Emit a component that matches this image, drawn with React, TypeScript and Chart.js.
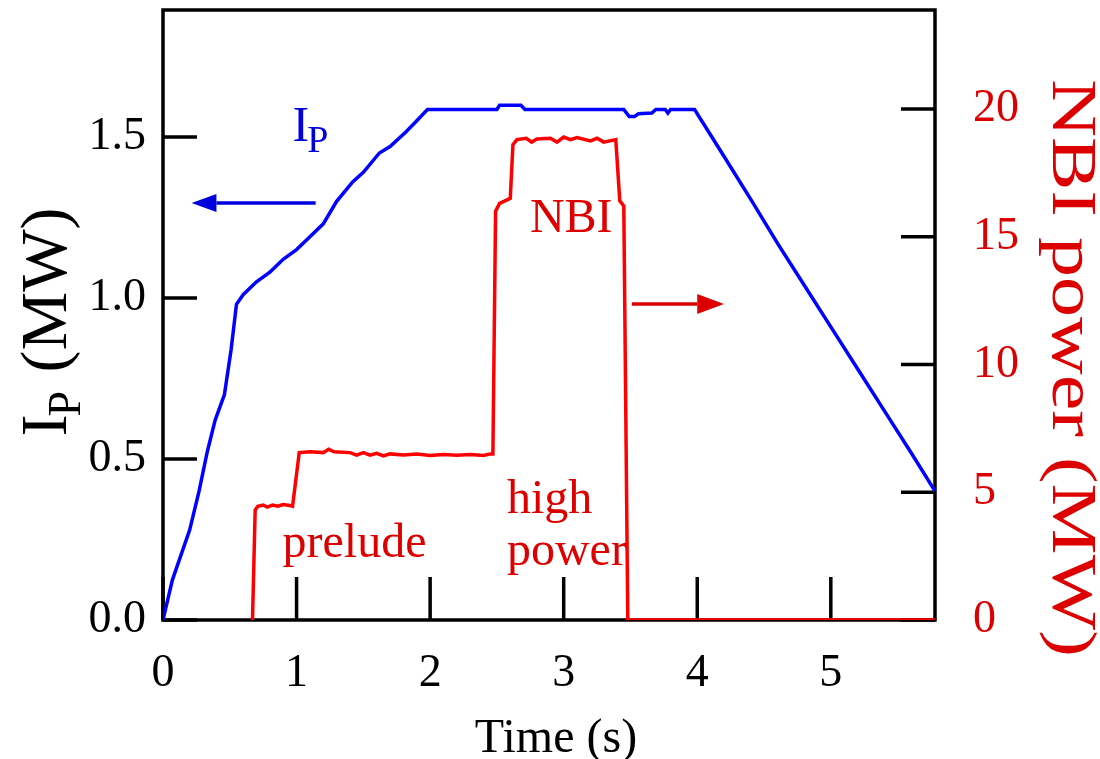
import React, { useEffect, useRef } from 'react';
import { Chart, registerables } from 'chart.js';

Chart.register(...registerables);

// ---- data ----
const IP_TIME = [0, 0.07, 0.2, 0.27, 0.33, 0.39, 0.46, 0.51, 0.55, 0.6, 0.7, 0.8, 0.9, 1.0, 1.1, 1.2, 1.3, 1.42, 1.5, 1.62, 1.7, 1.82, 1.9, 1.98, 2.5, 2.52, 2.68, 2.71, 3.45, 3.49, 3.53, 3.56, 3.66, 3.69, 3.76, 3.78, 3.8, 3.98, 4.2, 4.41, 4.6, 4.8, 5.0, 5.2, 5.4, 5.6, 5.78];
const IP_VALUES = [0, 0.124, 0.28, 0.4, 0.52, 0.62, 0.7, 0.84, 0.98, 1.01, 1.05, 1.08, 1.12, 1.15, 1.19, 1.23, 1.3, 1.36, 1.39, 1.45, 1.47, 1.516, 1.55, 1.585, 1.585, 1.598, 1.598, 1.585, 1.585, 1.563, 1.563, 1.572, 1.574, 1.585, 1.585, 1.574, 1.585, 1.585, 1.44, 1.3, 1.17, 1.04, 0.91, 0.78, 0.65, 0.52, 0.4];

const NBI_TIME = [0.67, 0.69, 0.71, 0.75, 0.78, 0.82, 0.86, 0.9, 0.95, 0.97, 1.02, 1.1, 1.2, 1.24, 1.28, 1.4, 1.45, 1.5, 1.55, 1.6, 1.65, 1.7, 1.8, 1.9, 2.0, 2.1, 2.2, 2.3, 2.4, 2.45, 2.47, 2.49, 2.52, 2.56, 2.6, 2.62, 2.65, 2.72, 2.76, 2.8, 2.9, 2.95, 3.0, 3.05, 3.1, 3.2, 3.25, 3.3, 3.39, 3.42, 3.45, 3.48, 5.78];
const NBI_POWER = [0, 4.3, 4.45, 4.5, 4.42, 4.5, 4.45, 4.52, 4.48, 4.45, 6.55, 6.58, 6.55, 6.68, 6.58, 6.55, 6.45, 6.55, 6.45, 6.52, 6.42, 6.5, 6.46, 6.5, 6.44, 6.48, 6.45, 6.48, 6.44, 6.5, 6.5, 16.0, 16.3, 16.4, 16.5, 18.6, 18.8, 18.85, 18.7, 18.82, 18.85, 18.7, 18.9, 18.8, 18.88, 18.75, 18.85, 18.7, 18.8, 16.4, 16.2, 0, 0];

const X_TICKS = [0, 1, 2, 3, 4, 5];
const LEFT_TICKS = [0, 0.5, 1.0, 1.5];
const RIGHT_TICKS = [0, 5, 10, 15, 20];

const X_MAX = 5.78;
const LEFT_MAX = 1.894;
const RIGHT_MAX = 23.87;

const FONT = "'Liberation Serif', 'Times New Roman', serif";
const TEXT_RED = '#dd0000';
const TEXT_BLUE = '#0000dd';

// annotations in data coordinates
const TEXT_LABELS = [
  { text: 'prelude', x: 0.895, y: 2.466, axis: 'y1', size: 48, color: TEXT_RED },
  { text: 'NBI', x: 2.747, y: 15.19, axis: 'y1', size: 48, color: TEXT_RED },
  { text: 'high', x: 2.575, y: 4.19, axis: 'y1', size: 48, color: TEXT_RED },
  { text: 'power', x: 2.575, y: 2.15, axis: 'y1', size: 48, color: TEXT_RED },
];
const ARROWS = [
  { from: 1.143, base: 0.40, tip: 0.214, y: 1.295, axis: 'y', color: '#0000dd', half: 9 },
  { from: 3.51, base: 4.0, tip: 4.2, y: 12.37, axis: 'y1', color: '#dd0000', half: 10 },
];

const zeroPad = (s: any) => {
  s.paddingTop = 0;
  s.paddingBottom = 0;
  s.paddingLeft = 0;
  s.paddingRight = 0;
};

const framePlugin = {
  id: 'frameTicks',
  beforeDatasetsDraw(chart: any) {
    const { ctx, chartArea, scales } = chart;
    const { left, top, right, bottom } = chartArea;
    ctx.save();
    ctx.strokeStyle = '#000';
    ctx.lineWidth = 3.5;
    ctx.strokeRect(left, top, right - left, bottom - top);
    ctx.beginPath();
    scales.y.ticks.forEach((t: any) => {
      const py = scales.y.getPixelForValue(t.value);
      ctx.moveTo(left, py);
      ctx.lineTo(left + 34, py);
    });
    scales.y1.ticks.forEach((t: any) => {
      const py = scales.y1.getPixelForValue(t.value);
      ctx.moveTo(right, py);
      ctx.lineTo(right - 34, py);
    });
    scales.x.ticks.forEach((t: any) => {
      const px = scales.x.getPixelForValue(t.value);
      ctx.moveTo(px, bottom);
      ctx.lineTo(px, bottom - 43);
    });
    ctx.stroke();
    ctx.restore();
  },
  afterDatasetsDraw(chart: any) {
    const { ctx, scales } = chart;
    ctx.save();
    // arrows
    ARROWS.forEach((a) => {
      const py = scales[a.axis].getPixelForValue(a.y);
      const x0 = scales.x.getPixelForValue(a.from);
      const xb = scales.x.getPixelForValue(a.base);
      const xt = scales.x.getPixelForValue(a.tip);
      ctx.strokeStyle = a.color;
      ctx.fillStyle = a.color;
      ctx.lineWidth = 3.5;
      ctx.beginPath();
      ctx.moveTo(x0, py);
      ctx.lineTo(xb, py);
      ctx.stroke();
      ctx.beginPath();
      ctx.moveTo(xt, py);
      ctx.lineTo(xb, py - a.half);
      ctx.lineTo(xb, py + a.half);
      ctx.closePath();
      ctx.fill();
    });
    // text labels
    ctx.textBaseline = 'alphabetic';
    ctx.textAlign = 'left';
    TEXT_LABELS.forEach((l) => {
      ctx.font = `${l.size}px ${FONT}`;
      ctx.fillStyle = l.color;
      ctx.fillText(l.text, scales.x.getPixelForValue(l.x), scales[l.axis].getPixelForValue(l.y));
    });
    // I_P label
    ctx.fillStyle = TEXT_BLUE;
    ctx.font = `50px ${FONT}`;
    const ix = scales.x.getPixelForValue(0.97);
    ctx.fillText('I', ix, scales.y.getPixelForValue(1.486));
    const wI = ctx.measureText('I').width;
    ctx.font = `38px ${FONT}`;
    ctx.fillText('P', ix + wI - 2, scales.y.getPixelForValue(1.452));
    ctx.restore();
  },
  afterDraw(chart: any) {
    const { ctx, chartArea } = chart;
    ctx.save();
    ctx.textBaseline = 'alphabetic';
    // x title
    ctx.fillStyle = '#000';
    ctx.font = `48px ${FONT}`;
    ctx.textAlign = 'center';
    ctx.fillText('Time (s)', (chartArea.left + chartArea.right) / 2 + 7, 752);
    // left title: I_P (MW)
    ctx.textAlign = 'left';
    ctx.translate(66, 322);
    ctx.rotate(-Math.PI / 2);
    const big = `66px ${FONT}`;
    const sub = `46px ${FONT}`;
    ctx.font = big;
    const wI = ctx.measureText('I').width;
    const wRest = ctx.measureText(' (MW)').width;
    ctx.font = sub;
    const wP = ctx.measureText('P').width;
    const total = wI + wP + wRest;
    const x0 = -total / 2;
    ctx.font = big;
    ctx.fillText('I', x0, 0);
    ctx.font = sub;
    ctx.fillText('P', x0 + wI - 2, 14);
    ctx.font = big;
    ctx.fillText(' (MW)', x0 + wI + wP, 0);
    ctx.restore();
    // right title
    ctx.save();
    ctx.fillStyle = TEXT_RED;
    ctx.font = `80px ${FONT}`;
    ctx.textAlign = 'center';
    ctx.textBaseline = 'alphabetic';
    ctx.translate(1053, 368);
    ctx.rotate(Math.PI / 2);
    ctx.scale(1, 0.8);
    ctx.fillText('NBI power (MW)', 0, 0);
    ctx.restore();
  },
};

export default function App() {
  const ref = useRef<HTMLCanvasElement | null>(null);
  useEffect(() => {
    document.body.style.margin = '0';
    const canvas = ref.current;
    if (!canvas) return;
    const chart = new Chart(canvas, {
      type: 'line',
      data: {
        datasets: [
          {
            label: 'Ip',
            data: IP_TIME.map((t, i) => ({ x: t, y: IP_VALUES[i] })),
            yAxisID: 'y',
            borderColor: '#0000ff',
            borderWidth: 3.5,
            pointRadius: 0,
            tension: 0,
            fill: false,
          },
          {
            label: 'NBI',
            data: NBI_TIME.map((t, i) => ({ x: t, y: NBI_POWER[i] })),
            yAxisID: 'y1',
            borderColor: '#ff0000',
            borderWidth: 3.5,
            pointRadius: 0,
            tension: 0,
            fill: false,
          },
        ],
      },
      options: {
        animation: false,
        responsive: false,
        devicePixelRatio: 1,
        layout: { padding: { top: 10, left: 0, right: 0, bottom: 0 } },
        plugins: { legend: { display: false }, tooltip: { enabled: false } },
        scales: {
          x: {
            type: 'linear',
            position: 'bottom',
            min: 0,
            max: X_MAX,
            grid: { display: false, drawTicks: false },
            border: { display: false },
            afterBuildTicks: (s: any) => { s.ticks = X_TICKS.map((v) => ({ value: v })); },
            afterFit: (s: any) => { s.height = 139; zeroPad(s); },
            ticks: {
              color: '#000',
              font: { family: FONT, size: 46 },
              padding: 26,
              maxRotation: 0,
              autoSkip: false,
              callback: (v: any) => String(v),
            },
          },
          y: {
            type: 'linear',
            position: 'left',
            min: 0,
            max: LEFT_MAX,
            grid: { display: false, drawTicks: false },
            border: { display: false },
            afterBuildTicks: (s: any) => { s.ticks = LEFT_TICKS.map((v) => ({ value: v })); },
            afterFit: (s: any) => { s.width = 163; zeroPad(s); },
            ticks: {
              color: '#000',
              font: { family: FONT, size: 46 },
              padding: 17,
              autoSkip: false,
              callback: (v: any) => Number(v).toFixed(1),
            },
          },
          y1: {
            type: 'linear',
            position: 'right',
            min: 0,
            max: RIGHT_MAX,
            grid: { display: false, drawTicks: false },
            border: { display: false },
            afterBuildTicks: (s: any) => { s.ticks = RIGHT_TICKS.map((v) => ({ value: v })); },
            afterFit: (s: any) => { s.width = 165; zeroPad(s); },
            ticks: {
              color: TEXT_RED,
              font: { family: FONT, size: 46 },
              padding: 38,
              autoSkip: false,
              callback: (v: any) => String(v),
            },
          },
        },
      },
      plugins: [framePlugin],
    });
    return () => chart.destroy();
  }, []);
  return (
    <div style={{ width: 1100, height: 759 }}>
      <canvas ref={ref} width={1100} height={759} style={{ display: 'block' }} />
    </div>
  );
}
